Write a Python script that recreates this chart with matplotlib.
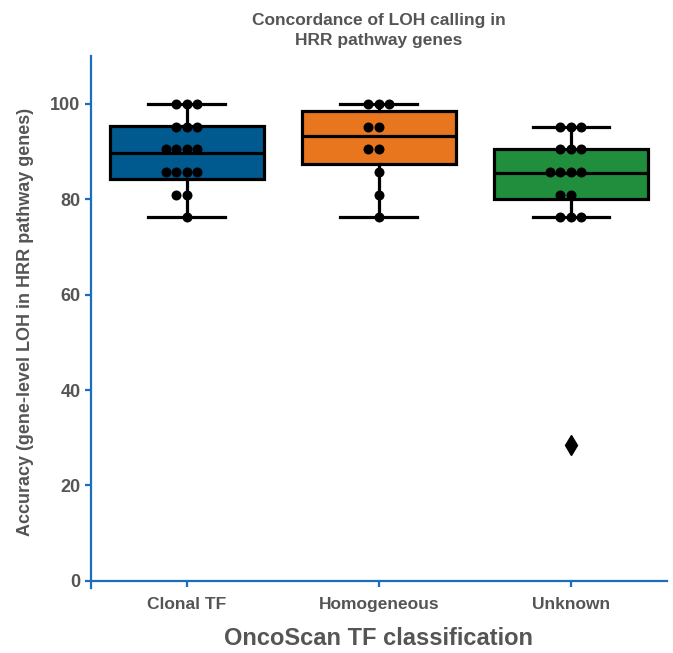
import matplotlib
matplotlib.use("Agg")
import matplotlib.pyplot as plt
import seaborn as sns
import pandas as pd

# categories and per-gene accuracy values (21 HRR genes -> steps of 100/21)
categories = ["Clonal TF", "Homogeneous", "Unknown"]
clonal_tf = [100, 100, 100, 95.24, 95.24, 95.24, 90.48, 90.48, 90.48, 90.48,
             85.71, 85.71, 85.71, 85.71, 80.95, 80.95, 76.19]
homogeneous = [100, 100, 100, 95.24, 95.24, 90.48, 90.48, 85.71, 80.95, 76.19]
unknown = [95.24, 95.24, 95.24, 90.48, 90.48, 90.48, 85.71, 85.71, 85.71, 85.71,
           80.95, 80.95, 76.19, 76.19, 76.19, 28.57]

# box statistics as drawn in the figure
box_q1 = [84.3, 87.4, 80.1]
box_med = [89.8, 93.3, 85.5]
box_q3 = [95.4, 98.6, 90.6]
whisk_lo = [76.19, 76.19, 76.19]
whisk_hi = [100, 100, 95.24]
fliers = [[], [], [28.57]]

box_colors = ["#005a8f", "#e8761f", "#208e3c"]
axis_blue = "#1a6dbf"
text_gray = "#555555"

df = pd.DataFrame({
    "cls": ["Clonal TF"] * len(clonal_tf) + ["Homogeneous"] * len(homogeneous)
           + ["Unknown"] * len(unknown),
    "acc": clonal_tf + homogeneous + unknown,
})

plt.rcParams["font.family"] = ["Liberation Sans", "DejaVu Sans"]

fig = plt.figure(figsize=(6.73, 6.53), dpi=100)
ax = fig.add_axes([0.135, 0.0995, 0.856, 0.8145])

stats = []
for i, c in enumerate(categories):
    stats.append({"label": c, "q1": box_q1[i], "med": box_med[i], "q3": box_q3[i],
                  "whislo": whisk_lo[i], "whishi": whisk_hi[i], "fliers": fliers[i]})

bp = ax.bxp(stats, positions=range(len(categories)), widths=0.8, capwidths=0.4,
            patch_artist=True, showfliers=True,
            boxprops=dict(edgecolor="black", linewidth=2.3),
            medianprops=dict(color="black", linewidth=2.3),
            whiskerprops=dict(color="black", linewidth=2.3),
            capprops=dict(color="black", linewidth=2.3),
            flierprops=dict(marker="d", markerfacecolor="black",
                            markeredgecolor="black", markersize=10))
for patch, col in zip(bp["boxes"], box_colors):
    patch.set_facecolor(col)

sns.swarmplot(data=df, x="cls", y="acc", order=categories, color="black",
              size=7.2, ax=ax, zorder=5)

ax.set_xlim(-0.5, 2.5)
ax.set_ylim(-1.5, 110)
ax.set_yticks([0, 20, 40, 60, 80, 100])
ax.set_xticks(range(len(categories)))
ax.set_xticklabels(categories)

for s in ["top", "right"]:
    ax.spines[s].set_visible(False)
ax.spines["bottom"].set_position(("data", 0))
for s in ["left", "bottom"]:
    ax.spines[s].set_color(axis_blue)
    ax.spines[s].set_linewidth(1.6)

ax.tick_params(axis="both", colors=axis_blue, width=1.6, length=4.5)
ax.tick_params(axis="y", labelsize=13, labelcolor=text_gray, pad=3)
ax.tick_params(axis="x", labelsize=12.5, labelcolor=text_gray, pad=7)
for lab in ax.get_xticklabels() + ax.get_yticklabels():
    lab.set_fontweight("bold")

ax.set_xlabel("OncoScan TF classification", fontsize=17, fontweight="bold",
              color=text_gray, labelpad=11)
ax.set_ylabel("Accuracy (gene-level LOH in HRR pathway genes)", fontsize=13,
              fontweight="bold", color=text_gray, labelpad=12)
ax.set_title("Concordance of LOH calling in\nHRR pathway genes", fontsize=12.5,
             fontweight="bold", color=text_gray, pad=8, linespacing=1.45)

fig.savefig("out.png", dpi=100)
